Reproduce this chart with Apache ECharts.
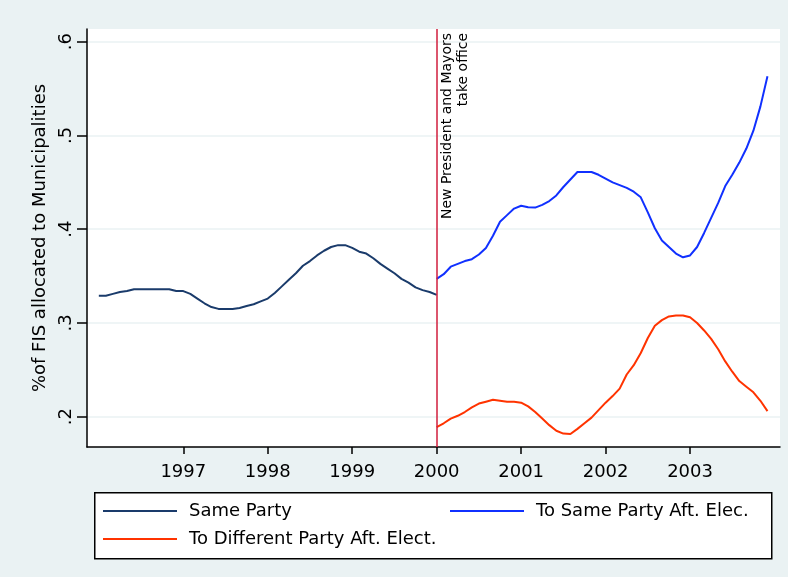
<!DOCTYPE html>
<html>
<head>
<meta charset="utf-8">
<script src="https://cdn.jsdelivr.net/npm/echarts@6/dist/echarts.min.js"></script>
<style>
  html, body { margin: 0; padding: 0; background: #EAF2F3; }
  #chart { width: 788px; height: 577px; }
</style>
</head>
<body>
<div id="chart"></div>
<script>
// Monthly share of FIS allocated to municipalities
// Same Party: Jan 1996 .. Jan 2000
const samePartyStart = 1996;
const sameParty = [
  0.329, 0.329, 0.331, 0.333, 0.334, 0.336, 0.336, 0.336, 0.336, 0.336, 0.336, 0.334,
  0.334, 0.331, 0.326, 0.321, 0.317, 0.315, 0.315, 0.315, 0.316, 0.318, 0.320, 0.323,
  0.326, 0.332, 0.339, 0.346, 0.353, 0.361, 0.366, 0.372, 0.377, 0.381, 0.383, 0.383,
  0.380, 0.376, 0.374, 0.369, 0.363, 0.358, 0.353, 0.347, 0.343, 0.338, 0.335, 0.333,
  0.330
];
// After the 2000 elections: Jan 2000 .. Dec 2003
const afterStart = 2000;
const toSameParty = [
  0.347, 0.352, 0.360, 0.363, 0.366, 0.368, 0.373, 0.380, 0.393, 0.408, 0.415, 0.422,
  0.425, 0.4235, 0.423, 0.426, 0.430, 0.436, 0.445, 0.453, 0.461, 0.461, 0.461, 0.458,
  0.454, 0.450, 0.447, 0.444, 0.440, 0.434, 0.418, 0.401, 0.388, 0.381, 0.374, 0.370,
  0.372, 0.381, 0.396, 0.412, 0.428, 0.446, 0.458, 0.471, 0.486, 0.505, 0.531, 0.563
];
const toDifferentParty = [
  0.189, 0.193, 0.198, 0.201, 0.205, 0.210, 0.214, 0.216, 0.218, 0.217, 0.216, 0.216,
  0.215, 0.211, 0.205, 0.198, 0.191, 0.185, 0.182, 0.1815, 0.187, 0.193, 0.199, 0.207,
  0.215, 0.222, 0.230, 0.245, 0.255, 0.268, 0.284, 0.297, 0.303, 0.307, 0.308, 0.308,
  0.306, 0.300, 0.292, 0.283, 0.272, 0.259, 0.248, 0.238, 0.232, 0.226, 0.217, 0.206
];
const yearTicks = [1997, 1998, 1999, 2000, 2001, 2002, 2003];
const shareTicks = [0.2, 0.3, 0.4, 0.5, 0.6];
const officeYear = 2000;
const seriesNames = ['Same Party', 'To Same Party Aft. Elec.', 'To Different Party Aft. Elect.'];

function monthly(startYear, values) {
  return values.map((v, i) => [startYear + i / 12, v]);
}

const FONT = 'DejaVu Sans';
const BG = '#EAF2F3';

const legendText = { fontSize: 18, color: '#000', fontFamily: FONT, padding: [0, 0, 0, 7], lineHeight: 22 };

const chart = echarts.init(document.getElementById('chart'), null, { renderer: 'canvas' });
chart.setOption({
  backgroundColor: BG,
  animation: false,
  textStyle: { fontFamily: FONT, color: '#000' },
  grid: { left: 87, top: 29, right: 8, bottom: 130, show: true, backgroundColor: '#fff', borderWidth: 0 },
  xAxis: {
    type: 'value',
    min: 1995.86,
    max: 2004.065,
    axisLine: { show: true, onZero: false, lineStyle: { color: '#000', width: 1.5 } },
    axisTick: { show: true, length: 7, customValues: yearTicks, lineStyle: { color: '#000', width: 1.5 } },
    axisLabel: { customValues: yearTicks, margin: 16, fontSize: 18, color: '#000', fontFamily: FONT,
      formatter: v => String(v) },
    splitLine: { show: false }
  },
  yAxis: {
    type: 'value',
    min: 0.1677,
    max: 0.6135,
    name: '%of FIS allocated to Municipalities',
    nameLocation: 'middle',
    nameRotate: 90,
    nameGap: 38,
    nameTextStyle: { fontSize: 18, color: '#000', fontFamily: FONT },
    axisLine: { show: true, onZero: false, lineStyle: { color: '#000', width: 1.5 } },
    axisTick: { show: true, length: 10, customValues: shareTicks, lineStyle: { color: '#000', width: 1.5 } },
    axisLabel: { customValues: shareTicks, rotate: 90, margin: 12, fontSize: 18, color: '#000', fontFamily: FONT,
      formatter: v => v.toFixed(1).replace(/^0/, '') },
    splitLine: { show: true, lineStyle: { color: BG, width: 1.5 } }
  },
  legend: [
    {
      orient: 'vertical',
      left: 103, top: 500, padding: 0,
      itemWidth: 74, itemHeight: 2, itemGap: 6,
      icon: 'rect',
      data: [seriesNames[0], seriesNames[2]],
      textStyle: legendText
    },
    {
      orient: 'vertical',
      left: 450, top: 500, padding: 0,
      itemWidth: 74, itemHeight: 2,
      icon: 'rect',
      data: [seriesNames[1]],
      textStyle: legendText
    }
  ],
  graphic: [
    { type: 'rect', left: 94, top: 492, z: -1,
      shape: { width: 677, height: 66 },
      style: { fill: '#fff', stroke: '#000', lineWidth: 1.5 } }
  ],
  series: [
    {
      name: seriesNames[0], type: 'line', symbol: 'none',
      data: monthly(samePartyStart, sameParty),
      lineStyle: { color: '#1A3B6B', width: 2 }, itemStyle: { color: '#1A3B6B' },
      markLine: {
        silent: true, symbol: ['none', 'none'],
        lineStyle: { color: '#D01E3C', width: 1.5, type: 'solid' },
        label: {
          show: true, position: 'insideEndBottom',
          formatter: 'New President and Mayors\ntake office',
          fontSize: 14, lineHeight: 16, color: '#000', fontFamily: FONT, distance: [4, 3]
        },
        data: [{ xAxis: officeYear }]
      }
    },
    {
      name: seriesNames[1], type: 'line', symbol: 'none',
      data: monthly(afterStart, toSameParty),
      lineStyle: { color: '#1030FF', width: 2 }, itemStyle: { color: '#1030FF' }
    },
    {
      name: seriesNames[2], type: 'line', symbol: 'none',
      data: monthly(afterStart, toDifferentParty),
      lineStyle: { color: '#FF3300', width: 2 }, itemStyle: { color: '#FF3300' }
    }
  ]
});
</script>
</body>
</html>
